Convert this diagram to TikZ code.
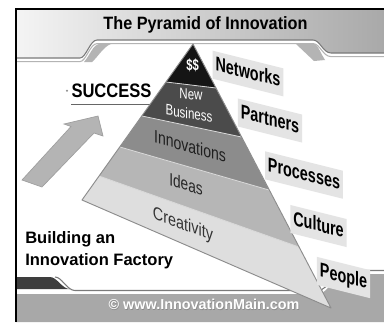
\documentclass[tikz,border=0pt]{standalone}
\usepackage{fontspec}
\usepackage{graphicx}
\setmainfont{Liberation Sans}
\usetikzlibrary{calc}

\definecolor{hdrL}{HTML}{F4F4F4}
\definecolor{hdrR}{HTML}{A9A9A9}
\definecolor{layerA}{HTML}{151515}
\definecolor{layerB}{HTML}{4B4B4B}
\definecolor{layerC}{HTML}{8C8C8C}
\definecolor{layerD}{HTML}{B6B6B6}
\definecolor{layerE}{HTML}{DEDEDE}
\definecolor{tagfill}{HTML}{E4E4E4}
\definecolor{footgray}{HTML}{A8A8A8}
\definecolor{bandgray}{HTML}{3E3E3E}
\definecolor{arrowgray}{HTML}{B4B4B4}
\definecolor{edgedark}{HTML}{7A7A7A}
\definecolor{edgelight}{HTML}{B4B4B4}

\tikzset{
  edgeline/.style={draw=edgedark, line width=0.8pt},
  edgeline2/.style={draw=edgelight, line width=0.8pt},
  wedge/.style={fill=edgelight},
  tag/.style={fill=tagfill, inner xsep=2.2pt, inner ysep=0pt, minimum height=21pt,
    text height=11pt, text depth=3pt, yslant=-0.25,
    font=\fontsize{15}{15}\selectfont\bfseries},
  ptext/.style={inner sep=0pt, font=\fontsize{13.5}{13.5}\selectfont},
  layersep/.style={draw=white!85!black, line width=0.6pt},
}

\begin{document}
\begin{tikzpicture}[x=0.75pt,y=-0.75pt]
\useasboundingbox (0,0) rectangle (384,322);
\fill[white] (0,0) rectangle (384,322);

% ---- header band ----
\shade[left color=hdrL, right color=hdrR]
  (16,9) -- (384,9) -- (384,53) -- (331,53) .. controls (323,53) and (320,40) .. (313,40)
  -- (97,40) .. controls (90,40) and (86,58) .. (80,58) -- (16,58) -- cycle;
\fill[wedge] (84,62) .. controls (90,55) and (93,45) .. (99,44) -- (111,44)
  .. controls (104,46) and (97,58) .. (92,62) -- cycle;
\fill[wedge] (296,44) -- (315,44) .. controls (319,47) and (321,54) .. (325,60) -- (314,61) -- cycle;
\draw[edgeline] (16,58) -- (80,58) .. controls (86,58) and (90,40) .. (97,40) -- (313,40)
  .. controls (320,40) and (323,53) .. (331,53) -- (384,53);
\begin{scope}[yshift=-2.7pt]
\draw[edgeline2] (16,58) -- (80,58) .. controls (86,58) and (90,40) .. (97,40) -- (313,40)
  .. controls (320,40) and (323,53) .. (331,53) -- (384,53);
\end{scope}
\node[font=\fontsize{13.4}{13.4}\selectfont\bfseries, anchor=base, inner sep=0pt]
  (title) at (205.5,29.8) {\scalebox{0.91}[1]{The Pyramid of Innovation}};

% ---- footer band ----
\fill[footgray] (16,294) -- (318,294) .. controls (328,294) and (334,274) .. (346,274)
  -- (384,274) -- (384,322) -- (16,322) -- cycle;
\fill[bandgray] (16,277) -- (50,277) .. controls (57,277) and (62,289) .. (70,289)
  -- (16,289) -- cycle;
\draw[edgeline] (55,277) .. controls (62,277) and (67,290.5) .. (75,290.5) -- (318,290.5)
  .. controls (328,290.5) and (334,270.5) .. (346,270.5) -- (384,270.5);
\node[font=\fontsize{10.8}{10.8}\selectfont\bfseries, text=black!45, anchor=base, inner sep=0pt]
  at (204.6,310.2) {© www.InnovationMain.com};
\node[font=\fontsize{10.8}{10.8}\selectfont\bfseries, text=white, anchor=base, inner sep=0pt]
  (copy) at (204,309.5) {© www.InnovationMain.com};

% ---- frame ----
\draw[line width=1.6pt] (16.3,322) -- (16.3,9.3) -- (384,9.3);

% ---- rising arrow ----
\filldraw[fill=arrowgray, draw=black!38, line width=0.5pt]
  (22,180) -- (71,126.5) -- (64,124) -- (98,116) -- (103,136) -- (94,133) -- (42,187) -- cycle;

% ---- SUCCESS ----
\fill[black!45] (67,90.7) circle (1.1);
\node[font=\fontsize{14.6}{14.6}\selectfont\bfseries, anchor=base, inner sep=0pt]
  (succ) at (111.5,97) {\scalebox{0.85}[1]{SUCCESS}};
\draw[black!60, line width=1.4pt] (71,104.5) -- (150,104.5);

% ---- pyramid ----
\coordinate (A)  at (193,44);
\coordinate (L1) at (166,82);
\coordinate (L2) at (142,116);
\coordinate (L3) at (120,147);
\coordinate (L4) at (99,176);
\coordinate (BL) at (82,200);
\coordinate (R1) at (216,88);
\coordinate (R2) at (241.5,137);
\coordinate (R3) at (269,190);
\coordinate (R4) at (299,247);
\coordinate (BR) at (331,308);

\fill[layerE] (L4) -- (R4) -- (BR) -- (BL) -- cycle;
\fill[layerD] (L3) -- (R3) -- (R4) -- (L4) -- cycle;
\fill[layerC] (L2) -- (R2) -- (R3) -- (L3) -- cycle;
\fill[layerB] (L1) -- (R1) -- (R2) -- (L2) -- cycle;
\fill[layerA] (A) -- (R1) -- (L1) -- cycle;
\draw[layersep] (L1) -- (R1) (L2) -- (R2) (L3) -- (R3) (L4) -- (R4);
\draw[black!45, line width=0.7pt, line join=round] (A) -- (BR) -- (BL) -- cycle;

\node[ptext, text=white, font=\fontsize{12}{12}\selectfont\bfseries, yslant=-0.05]
  (money) at (192.5,65) {\scalebox{0.7}[1]{\$\$}};
\node[ptext, text=white, font=\fontsize{11.4}{11.4}\selectfont, yslant=-0.1]
  (new) at (191,94.5) {\scalebox{0.76}[1]{New}};
\node[ptext, text=white, font=\fontsize{11.4}{11.4}\selectfont, yslant=-0.17]
  (business) at (189,113.5) {\scalebox{0.76}[1]{Business}};
\node[ptext, text=black!88, yslant=-0.27]
  (innov) at (190,146) {\scalebox{0.78}[1]{Innovations}};
\node[ptext, text=black!85, yslant=-0.32]
  (ideas) at (186,184) {\scalebox{0.76}[1]{Ideas}};
\node[ptext, text=black!80, yslant=-0.38]
  (creat) at (183,225) {\scalebox{0.8}[1]{Creativity}};

% ---- side tags ----
\node[tag] (networks)  at (248,73.5)  {\scalebox{0.72}[1]{Networks}};
\node[tag] (partners)  at (270,120.5) {\scalebox{0.72}[1]{Partners}};
\node[tag] (processes) at (304,175)   {\scalebox{0.72}[1]{Processes}};
\node[tag] (culture)   at (318.5,226) {\scalebox{0.72}[1]{Culture}};
\node[tag] (people)    at (343.5,277.5) {\scalebox{0.72}[1]{People}};

% ---- caption ----
\node[font=\fontsize{12.4}{12.4}\selectfont\bfseries, anchor=base west, inner sep=0pt]
  (build1) at (25,243.5) {Building an};
\node[font=\fontsize{12.4}{12.4}\selectfont\bfseries, anchor=base west, inner sep=0pt]
  (build2) at (25,265) {Innovation Factory};
\end{tikzpicture}
\end{document}
